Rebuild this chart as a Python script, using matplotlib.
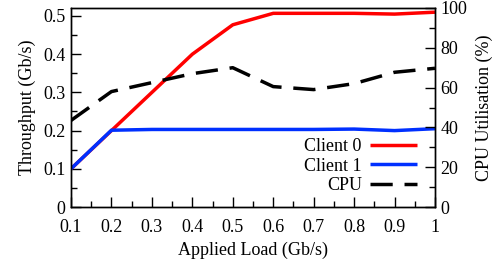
import matplotlib
matplotlib.use("Agg")
import matplotlib.pyplot as plt
from matplotlib.ticker import MultipleLocator

load = [0.1, 0.2, 0.3, 0.4, 0.5, 0.6, 0.7, 0.8, 0.9, 1.0]
client0 = [0.10, 0.20, 0.30, 0.40, 0.477, 0.507, 0.507, 0.507, 0.505, 0.510]
client1 = [0.10, 0.201, 0.203, 0.203, 0.203, 0.203, 0.203, 0.204, 0.200, 0.205]
cpu = [43.5, 58.0, 62.5, 67.0, 70.0, 60.5, 59.0, 62.0, 67.7, 69.7]

plt.rcParams['font.family'] = ['Liberation Serif', 'DejaVu Serif']
plt.rcParams['font.size'] = 13

fig = plt.figure(figsize=(4.96, 2.71), dpi=100)
ax = fig.add_axes([71/496, 1 - 207/271, (435 - 71)/496, (207 - 8)/271])
ax2 = ax.twinx()

lw = 2.5
l0, = ax.plot(load, client0, color='#ff0000', lw=lw, label='Client 0', solid_capstyle='butt')
l1, = ax.plot(load, client1, color='#0030ff', lw=lw, label='Client 1', solid_capstyle='butt')
l2, = ax2.plot(load, cpu, color='black', lw=lw, dashes=(6.4, 3.4), label='CPU')

ax.set_xlim(0.1, 1.0)
ax.set_ylim(0, 0.5 + 8 / 382.0)
ax2.set_ylim(0, 100 * 199 / 199.3)

ax.xaxis.set_minor_locator(MultipleLocator(0.05))
ax.yaxis.set_minor_locator(MultipleLocator(0.05))
ax2.yaxis.set_minor_locator(MultipleLocator(10))

ax.set_xticks(load)
ax.set_xticklabels(['0.1', '0.2', '0.3', '0.4', '0.5', '0.6', '0.7', '0.8', '0.9', '1'])
ax.set_yticks([0, 0.1, 0.2, 0.3, 0.4, 0.5])
ax.set_yticklabels(['0', '0.1', '0.2', '0.3', '0.4', '0.5'])
ax2.set_yticks([0, 20, 40, 60, 80, 100])

for a in (ax, ax2):
    a.tick_params(which='major', direction='in', length=7, width=1, pad=4)
    a.tick_params(which='minor', direction='in', length=4, width=1)
    for s in a.spines.values():
        s.set_linewidth(1)
ax.tick_params(top=False, right=False, which='both')
ax.tick_params(axis='x', pad=9)

ax.set_xlabel('Applied Load (Gb/s)', labelpad=4)
ax.set_ylabel('Throughput (Gb/s)', labelpad=5)
ax2.set_ylabel('CPU Utilisation (%)', labelpad=6)

leg = ax.legend(handles=[l0, l1, l2], loc='lower right', markerfirst=False,
                frameon=False, handlelength=2.6, handletextpad=0.45,
                labelspacing=0.15, borderaxespad=0.3,
                bbox_to_anchor=(0.985, 0.0))
for t in leg.get_texts():
    t.set_ha('right')

fig.savefig('out.png', dpi=100)
